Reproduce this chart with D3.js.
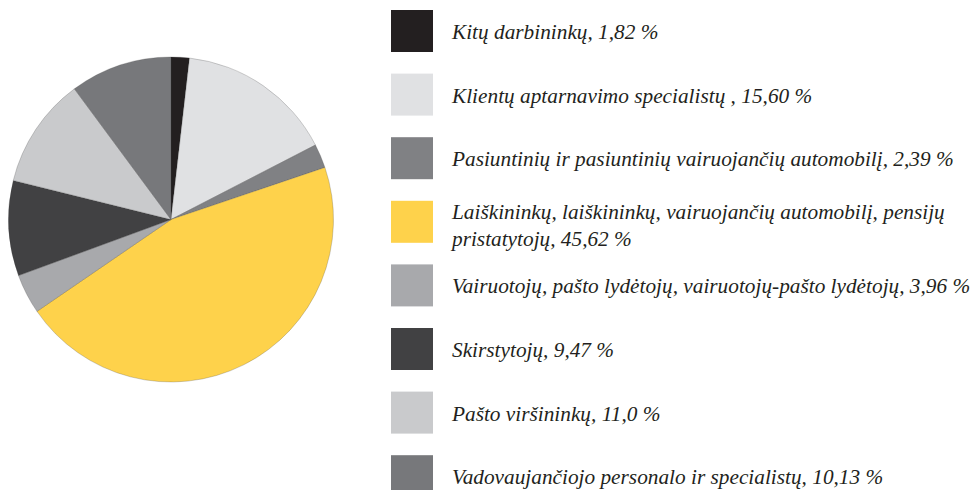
<!DOCTYPE html>
<html>
<head>
<meta charset="utf-8">
<script src="https://cdn.jsdelivr.net/npm/d3@7"></script>
<style>
  html, body { margin: 0; padding: 0; background: #fff; }
  svg { display: block; }
</style>
</head>
<body>
<svg id="chart" width="975" height="490"></svg>
<script>
const categories = [
  ["Kitų darbininkų, 1,82 %"],
  ["Klientų aptarnavimo specialistų , 15,60 %"],
  ["Pasiuntinių ir pasiuntinių vairuojančių automobilį, 2,39 %"],
  ["Laiškininkų, laiškininkų, vairuojančių automobilį, pensijų", "pristatytojų, 45,62 %"],
  ["Vairuotojų, pašto lydėtojų, vairuotojų-pašto lydėtojų, 3,96 %"],
  ["Skirstytojų, 9,47 %"],
  ["Pašto viršininkų, 11,0 %"],
  ["Vadovaujančiojo personalo ir specialistų, 10,13 %"]
];
const values = [1.82, 15.60, 2.39, 45.62, 3.96, 9.47, 11.0, 10.13];
const colors = ["#231f20", "#e0e1e3", "#808184", "#fed24b", "#a8a9ac", "#414143", "#c9cacc", "#77787b"];

const svg = d3.select("#chart");
const cx = 171, cy = 219.5, r = 162.5;

const pie = d3.pie().sort(null).value(d => d)(values);
const arc = d3.arc().innerRadius(0).outerRadius(r);

svg.append("g")
  .attr("transform", `translate(${cx},${cy})`)
  .selectAll("path")
  .data(pie)
  .join("path")
  .attr("d", arc)
  .attr("fill", (d, i) => colors[i])
  .attr("stroke", "#3a3a3c")
  .attr("stroke-width", 0.4)
  .attr("stroke-opacity", 0.6);

// Legend
const rowY = d3.scaleLinear().domain([0, 1]).range([10, 73.6]);
const sw = 42;
const leg = svg.append("g");
const rows = leg.selectAll("g.row")
  .data(categories)
  .join("g")
  .attr("class", "row")
  .attr("transform", (d, i) => `translate(391,${rowY(i)})`);

rows.append("rect")
  .attr("width", sw)
  .attr("height", sw)
  .attr("fill", (d, i) => colors[i]);

rows.each(function(lines) {
  const g = d3.select(this);
  const n = lines.length;
  const t = g.append("text")
    .attr("font-family", "Liberation Serif, Times New Roman, serif")
    .attr("font-style", "italic")
    .attr("font-size", 21.3)
    .attr("fill", "#231f20");
  lines.forEach((ln, k) => {
    const base = n === 1 ? 29 : 18 + k * 27;
    t.append("tspan").attr("x", 61).attr("y", base).text(ln);
  });
});
</script>
</body>
</html>
